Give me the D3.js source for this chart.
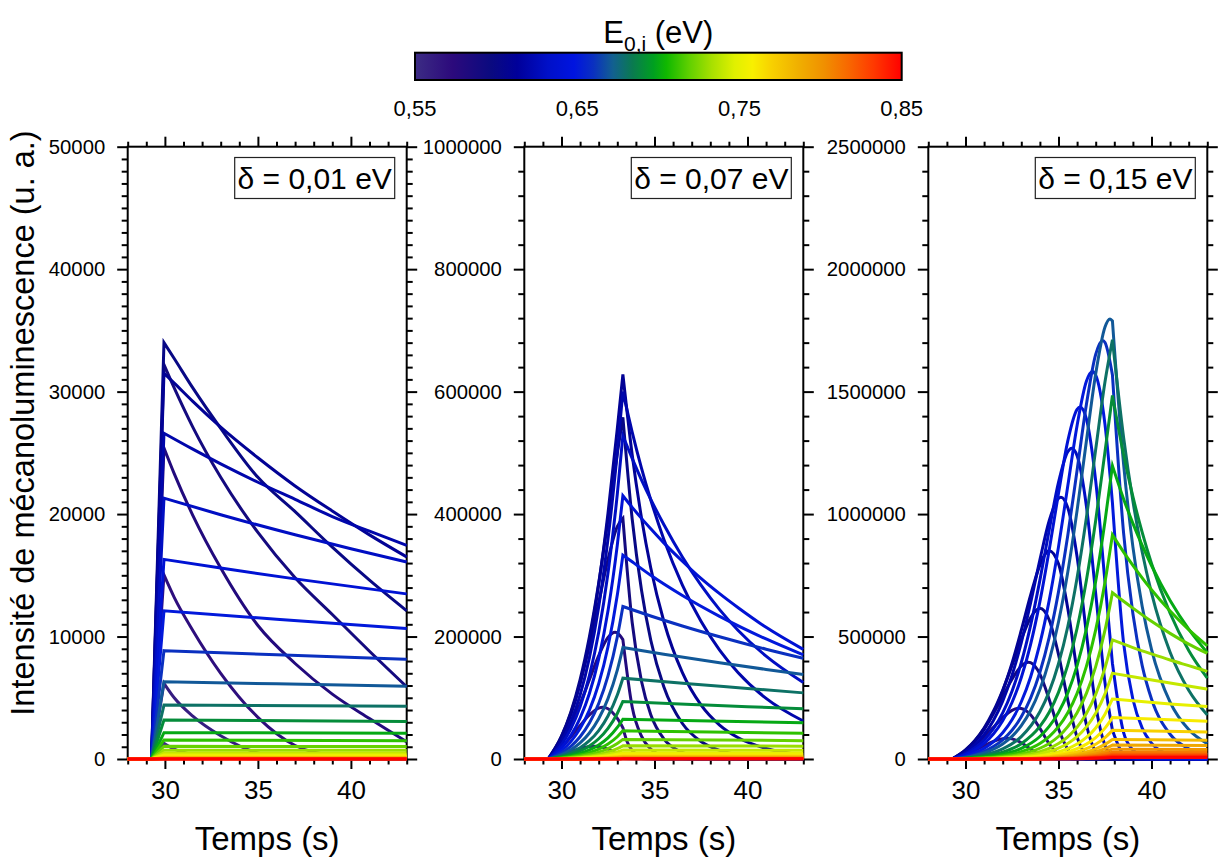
<!DOCTYPE html>
<html><head><meta charset="utf-8">
<script src="https://cdn.jsdelivr.net/npm/d3@7"></script>
<style>body{margin:0;background:#fff}svg{font-family:"Liberation Sans",Arial,sans-serif}</style>
</head><body><svg id="c" width="1219" height="859"></svg>
<script>
// ---------------- data ----------------
const E0 = [0.55,0.56,0.57,0.58,0.59,0.60,0.61,0.62,0.63,0.64,0.65,0.66,0.67,0.68,0.69,0.70,0.71,0.72,0.73,0.74,0.75,0.76,0.77,0.78,0.79,0.80,0.81,0.82,0.83,0.84,0.85];
const colorStops = [0.55,0.573,0.597,0.613,0.632,0.648,0.66,0.672,0.684,0.697,0.705,0.719,0.733,0.747,0.758,0.77,0.786,0.802,0.817,0.833,0.85];
const colorHex = ["#3c2c84","#2c0a7c","#0a0a80","#00009a","#0010c8","#0014e0","#0a30c0","#126090","#0a7a50","#00a020","#10b800","#60d000","#a8e000","#e0f000","#f8f000","#f8d000","#f0b000","#f09000","#f86800","#ff3800","#ff0000"];
const colorbarTicks = [0.55,0.65,0.75,0.85];
const colorbarLabels = ["0,55","0,65","0,75","0,85"];
const xMajorTicks = [30,35,40];
const timeDomain = [28,43];
const loadStart = 29.28;
const panelLabels = ["δ = 0,01 eV","δ = 0,07 eV","δ = 0,15 eV"];
const loadEnd = [29.95,33.3,37.9];
const yMax = [50000,1000000,2500000];
const yMajorStep = [10000,200000,500000];
const yMinorStep = [1000,40000,100000];
const valueUnit = [1,1000,1000];

// panel 1 (delta = 0.01 eV), values in counts; [time, intensity]
const curvesD001 = [
 [[29.95,1280],[30.5,800],[31.5,350],[33,100],[35,20],[37,0],[43,0]],
 [[29.95,6180],[30.5,5000],[31.5,3500],[33,1900],[35,500],[37,100],[39,20],[41,0],[43,0]],
 [[29.95,15030],[30.5,13200],[31.5,10500],[33,7000],[35,3400],[37,1100],[39,300],[41,80],[43,20]],
 [[29.95,25400],[30.5,23300],[31.5,19900],[33,15600],[35,10900],[37,7800],[39,5300],[41,3300],[43,1400]],
 [[29.95,32200],[30.5,30300],[31.5,27100],[33,23000],[35,18500],[37,14800],[39,11800],[41,8800],[43,5900]],
 [[29.95,34000],[30.5,32700],[31.5,30300],[33,27000],[35,23000],[37,20200],[39,17300],[41,14600],[43,12100]],
 [[29.95,31500],[30.5,30700],[31.5,29200],[33,27100],[35,24600],[37,22300],[39,20250],[41,18300],[43,16500]],
 [[29.95,26600],[31.5,25300],[33,24100],[35,22600],[37,21200],[39,19800],[41,18600],[43,17450]],
 [[29.95,21300],[33,19950],[37,18310],[40,17170],[43,16080]],
 [[29.95,16300],[33,15590],[37,14710],[43,13480]],
 [[29.95,12100],[36,11410],[43,10660]],
 [[29.95,8850],[36,8510],[43,8140]],
 [[29.95,6300],[36,6140],[43,5950]],
 [[29.95,4400],[43,4300]],
 [[29.95,3190],[43,3070]],
 [[29.95,2150],[43,2110]],
 [[29.95,1550],[43,1490]],
 [[29.95,1040],[43,1015]],
 [[29.95,715],[43,705]],
 [[29.95,487],[43,482]],
 [[29.95,331],[43,329]],
 [[29.95,225],[43,224]],
 [[29.95,153],[43,152]],
 [[29.95,104],[43,104]],
 [[29.95,71],[43,71]],
 [[29.95,48],[43,48]],
 [[29.95,33],[43,33]],
 [[29.95,22],[43,22]],
 [[29.95,15],[43,15]],
 [[29.95,10],[43,10]],
 [[29.95,7],[43,7]]
];

// panel 2 (delta = 0.07 eV), values in thousands
const curvesD007 = [
 [[30,1.38],[30.5,2.32],[31,2.95],[31.29,3.07],[31.5,3.01],[32,2.39],[32.5,1.38],[33,0.51],[33.3,0.21],[34,0],[43,0]],
 [[30,6.7],[30.5,12.13],[31,17.19],[31.5,20.45],[31.74,20.9],[32,20.34],[32.5,16.22],[33,9.6],[33.3,5.79],[33.8,2],[34.5,0.5],[35.5,0],[43,0]],
 [[30,18.85],[30.5,35.87],[31,54.6],[31.5,72],[32,83.2],[32.22,84.5],[32.5,82.1],[33,66.2],[33.3,51.1],[33.5,30.4],[33.8,13.9],[34.2,4.9],[34.8,1],[35.5,0],[43,0]],
 [[30,28.2],[30.5,55.8],[31,90.1],[31.5,129.4],[32,168.7],[32.5,198.6],[32.88,207],[33,206],[33.3,194.9],[33.8,85],[34.3,37.2],[34.85,15],[35.5,5.1],[36.5,1],[37.5,0],[43,0]],
 [[30,37],[30.5,74.8],[31,124],[31.5,185.1],[32,255.3],[32.5,325.8],[33,379.7],[33.3,393],[33.8,223],[34.3,127],[34.8,72.4],[35.5,33],[36.2,15],[37,6.1],[38,2],[39,0.6],[40,0],[43,0]],
 [[30,37.3],[30.5,76.4],[31,129.5],[31.5,199.4],[32,287.4],[32.5,390.8],[33,499.2],[33.3,558],[33.8,392],[34.3,276],[34.8,194],[35.5,118],[36.5,58],[37.5,28.6],[38.5,14],[39.5,6.9],[41,2.4],[43,0.6]],
 [[30,34.8],[30.5,71.8],[31,123.2],[31.5,192.9],[32,284.9],[32.5,401.4],[33,539.3],[33.3,628],[33.8,497],[34.3,394],[34.8,312],[35.5,225],[36.5,141],[37.5,88.3],[38.5,55.3],[39.5,34.6],[41,17.2],[43,6.8]],
 [[30,29.1],[30.5,60.4],[31,104.5],[31.5,165.5],[32,248.8],[32.5,359.5],[33,500.8],[33.3,600],[33.8,534],[34.3,475],[34.8,423],[35.5,359],[36.5,284],[37.5,225],[38.5,178],[39.5,141],[41,99],[43,62]],
 [[30,23.5],[30.5,49.1],[31,85.3],[31.5,136.2],[32,206.9],[32.5,303.7],[33,432.6],[33.3,528],[33.8,491],[34.3,456],[34.8,424],[35.5,383],[36.5,330],[37.5,284],[38.5,244],[39.5,210],[41,168],[43,125]],
 [[30,18.4],[30.5,38.3],[31,66.8],[31.5,107],[32,163.6],[32.5,242.1],[33,349.2],[33.3,430],[33.8,411],[34.3,393],[34.8,376],[35.5,353],[36.5,323],[37.5,295],[38.5,270],[39.5,247],[41,215],[43,179]],
 [[30,13.6],[30.5,28.4],[31,49.7],[31.5,79.9],[32,122.9],[32.5,183.4],[33,267.7],[33.3,333],[33.8,322],[34.8,300],[36.5,267],[38.5,233],[41,196],[43,170]],
 [[30,10],[30.5,20.8],[31,36.4],[31.5,58.7],[32,90.6],[32.5,135.7],[33,199.3],[33.3,249],[34.8,233.6],[36.5,217.3],[38.5,199.6],[41,179.3],[43,164.5]],
 [[30,7.1],[30.5,15],[31,26.3],[31.5,42.5],[32,65.7],[32.5,98.6],[33,145.3],[33.3,182],[35.5,171],[38.5,157.1],[41,146.3],[43,138]],
 [[30,5],[30.5,10.5],[31,18.5],[31.5,30],[32,46.5],[32.5,70.3],[33,104.5],[33.3,132],[37,122.3],[40,115.3],[43,108]],
 [[30,3.57],[30.5,7.51],[31,13.2],[31.5,21.3],[32,33.1],[32.5,50.1],[33,74.4],[33.3,94],[37,89.2],[40,85.4],[43,82]],
 [[30,2.47],[30.5,5.19],[31,9.11],[31.5,14.8],[32,22.9],[32.5,34.6],[33,51.5],[33.3,65],[38,62],[43,59]],
 [[30,1.75],[30.5,3.68],[31,6.45],[31.5,10.4],[32,16.2],[32.5,24.5],[33,36.4],[33.3,46],[38,44.2],[43,42]],
 [[30,1.22],[30.5,2.56],[31,4.49],[31.5,7.27],[32,11.3],[32.5,17],[33,25.3],[33.3,32],[43,30]],
 [[30,0.82],[30.5,1.72],[31,3.01],[31.5,4.88],[32,7.57],[32.5,11.4],[33,17],[33.3,21.5],[43,21]],
 [[30,0.55],[31,2.05],[32,5.14],[32.5,7.77],[33,11.6],[33.3,14.6],[43,14.4]],
 [[31,1.4],[32,3.52],[32.5,5.33],[33,7.92],[33.3,10],[43,9.9]],
 [[31,0.95],[32,2.4],[32.5,3.6],[33,5.4],[33.3,6.8],[43,6.7]],
 [[31,0.64],[32,1.62],[32.5,2.45],[33,3.64],[33.3,4.6],[43,4.55]],
 [[31,0.43],[32,1.09],[32.5,1.65],[33,2.45],[33.3,3.1],[43,3.07]],
 [[32,0.74],[33,1.66],[33.3,2.1],[43,2.08]],
 [[32,0.51],[33,1.15],[33.3,1.45],[43,1.44]],
 [[32,0.35],[33,0.79],[33.3,1.0],[43,1.0]],
 [[33,0.54],[33.3,0.68],[43,0.68]],
 [[33,0.36],[33.3,0.46],[43,0.46]],
 [[33,0.25],[33.3,0.31],[43,0.31]],
 [[33,0.17],[33.3,0.21],[43,0.21]]
];

// panel 3 (delta = 0.15 eV), values in thousands
const curvesD015 = [
 [[30,1.38],[30.5,2.32],[31,2.95],[31.29,3.07],[31.5,3.01],[32,2.39],[32.5,1.38],[33,0.51],[33.5,0.06],[34,0],[43,0]],
 [[30,6.7],[30.5,12.13],[31,17.19],[31.5,20.45],[31.74,20.9],[32,20.34],[32.5,16.22],[33,9.6],[33.5,3.75],[34,0.81],[34.5,0.08],[35,0],[43,0]],
 [[30,18.85],[30.5,35.87],[31,54.6],[31.5,72],[32,83.2],[32.22,84.5],[32.5,82.1],[33,66.2],[33.5,40.3],[34,16.5],[34.5,3.85],[35,0.4],[35.5,0],[43,0]],
 [[30,28.2],[30.5,55.8],[31,90.1],[31.5,129.4],[32,168.7],[32.5,198.6],[32.88,207],[33,206],[33.5,180.6],[34,124.9],[34.5,62],[35,19.1],[35.5,2.96],[36,0.17],[36.5,0],[43,0]],
 [[30,37],[30.5,74.8],[31,124],[31.5,185.1],[32,255.3],[32.5,325.8],[33,379.7],[33.38,395],[33.5,393.3],[34,346.5],[34.5,243.1],[35,123.3],[35.5,39.3],[36,6.4],[36.5,0.4],[37,0],[43,0]],
 [[30,36.5],[30.5,74.7],[31,126.6],[31.5,194.9],[32,280.9],[32.5,382],[33,488],[33.5,576.9],[34,615],[34.5,567.6],[35,427.4],[35.5,240.6],[36,89.1],[36.5,18.1],[37,1.6],[37.5,0],[43,0]],
 [[30,33.9],[30.5,70],[31,120.1],[31.5,188],[32,277.7],[32.5,391.2],[33,525.6],[33.5,668.5],[34,791.9],[34.5,850.7],[35,796.7],[35.5,614.1],[36,358.2],[36.5,139.9],[37,30.7],[37.5,2.9],[37.9,0],[43,0]],
 [[30,27.6],[30.5,57.4],[31,99.2],[31.5,157.2],[32,236.3],[32.5,341.4],[33,475.6],[33.5,637.1],[34,813.1],[34.5,972.8],[35,1064.1],[35.13,1069],[35.5,1025.7],[36,825.3],[36.5,512.7],[37,219.5],[37.5,55],[37.9,10.6],[38.5,0.7],[39,0],[43,0]],
 [[30,21.4],[30.5,44.7],[31,77.7],[31.5,124],[32,188.4],[32.5,276.6],[33,394],[33.5,545.6],[34,730.3],[34.5,935.4],[35,1129.3],[35.5,1254.4],[35.71,1269],[36,1238.2],[36.5,1032.5],[37,675.2],[37.5,311.4],[37.9,117.8],[38.5,19.6],[39,4.4],[39.5,1],[40,0],[43,0]],
 [[30,17.5],[30.5,36.5],[31,63.6],[31.5,101.9],[32,155.8],[32.5,230.6],[33,332.6],[33.5,468.3],[34,642.6],[34.5,853.4],[35,1084.9],[35.5,1298.6],[36,1427.5],[36.16,1437],[36.5,1389],[37,1135.8],[37.5,722.2],[37.9,390.1],[38.5,107.4],[39,36.7],[39.5,12.5],[40,4.3],[41,0.5],[42,0],[43,0]],
 [[30,11.9],[30.5,24.8],[31,43.4],[31.5,69.8],[32,107.3],[32.5,160.2],[33,233.8],[33.5,335],[34,471],[34.5,647.6],[35,866.1],[35.5,1115.3],[36,1361.9],[36.5,1542.1],[36.82,1582],[37,1567.4],[37.5,1365.1],[37.9,1045.7],[38.5,473],[39,244],[39.5,126],[40,65],[41,17.3],[42,4.6],[43,1.2]],
 [[30,8.6],[30.5,18],[31,31.4],[31.5,50.7],[32,78.2],[32.5,117.2],[33,172.1],[33.5,248.8],[34,354.4],[34.5,496.6],[35,682.4],[35.5,913.5],[36,1179.6],[36.5,1447.2],[37,1652.4],[37.37,1709],[37.5,1700.8],[37.9,1568.2],[38.5,922],[39,593],[39.5,381],[40,245],[41,101],[42,41.8],[43,17.2]],
 [[30,6.7],[30.5,14.1],[31,24.7],[31.5,39.9],[32,61.6],[32.5,92.5],[33,136.3],[33.5,198],[34,283.8],[34.5,401.5],[35,559.4],[35.5,763.9],[36,1015.1],[36.5,1298.1],[37,1572.7],[37.5,1763.8],[37.77,1797],[37.9,1788.4],[38.5,1204],[39,866],[39.5,623],[40,448],[41,232],[42,120],[43,62.3]],
 [[30,4.5],[31,16.5],[32,41.2],[33,91.6],[34,193],[34.5,275],[35,389],[35.5,541],[36,740],[36.5,985],[37,1264],[37.5,1540],[37.9,1712],[38.5,1313],[39,1053],[39.5,845],[40,678],[41,436],[42,281],[43,180]],
 [[30,3],[31,11.2],[32,28.1],[33,62.7],[34,133],[34.5,191],[35,272],[35.5,384],[36,534],[36.5,730],[37,974],[37.5,1255],[37.9,1484],[38.5,1242],[39,1071],[39.5,925],[40,798],[41,595],[42,443],[43,330]],
 [[30,2.1],[31,7.7],[32,19.3],[33,43.2],[34,91.9],[34.5,133],[35,190],[35.5,270],[36,381],[36.5,531],[37,726],[37.5,971],[37.9,1197],[38.5,1062],[39,962],[39.5,872],[40,790],[41,647],[42,530],[43,434]],
 [[30,1.4],[31,5.3],[32,13.2],[33,29.7],[34,63.4],[34.5,91.8],[35,132],[35.5,189],[36,268],[36.5,378],[37,527],[37.5,722],[37.9,915],[38.5,845],[39,791],[40,691],[41,604],[42,528],[43,462]],
 [[30,1],[31,3.6],[32,9.1],[33,20.5],[34,43.9],[34.5,63.7],[35,91.9],[35.5,132],[36,189],[36.5,268],[37,377],[37.5,526],[37.9,679],[38.5,644],[39,616],[40,562],[41,513],[42,469],[43,431]],
 [[30,0.67],[31,2.5],[32,6.2],[33,14],[34,30],[34.5,43.6],[35,63],[35.5,90.7],[36,130],[36.5,186],[37,264],[37.5,372],[37.9,486],[39,455],[40,429],[41,404],[42,381],[43,358]],
 [[30,0.47],[31,1.7],[32,4.3],[33,9.7],[34,20.9],[34.5,30.4],[35,44],[35.5,63.5],[36,91.3],[36.5,131],[37,187],[37.5,266],[37.9,350],[39,336],[41,310],[43,285]],
 [[30,0.31],[31,1.13],[32,2.85],[33,6.4],[34,13.8],[34.5,20],[35,29.1],[35.5,42.1],[36,60.9],[36.5,87.9],[37,126.7],[37.5,182.8],[37.9,245],[39,238],[41,225],[43,214]],
 [[30,0.21],[31,0.78],[32,1.96],[33,4.4],[34,9.5],[34.5,13.8],[35,20.1],[35.5,29],[36,42],[36.5,60.6],[37,87.4],[37.5,126],[37.9,169],[40,163],[43,154]],
 [[30,0.15],[31,0.54],[32,1.36],[33,3.06],[34,6.58],[34.5,9.57],[35,13.9],[35.5,20.1],[36,29.1],[36.5,42],[37,60.5],[37.5,87.3],[37.9,117],[40,114],[43,110]],
 [[31,0.37],[32,0.93],[33,2.09],[34,4.5],[34.5,6.55],[35,9.5],[35.5,13.7],[36,19.9],[36.5,28.7],[37,41.4],[37.5,59.7],[37.9,80],[40,78.7],[43,76.8]],
 [[31,0.26],[32,0.66],[33,1.49],[34,3.2],[34.5,4.66],[35,6.77],[35.5,9.79],[36,14.2],[36.5,20.4],[37,29.5],[37.5,42.5],[37.9,57],[43,55.5]],
 [[32,0.46],[33,1.04],[34,2.25],[34.5,3.27],[35,4.75],[35.5,6.87],[36,9.94],[36.5,14.3],[37,20.7],[37.5,29.8],[37.9,40],[43,39.3]],
 [[33,0.73],[34,1.57],[35,3.32],[36,6.96],[36.5,10],[37,14.5],[37.5,20.9],[37.9,28],[43,27.7]],
 [[33,0.5],[34,1.07],[35,2.26],[36,4.72],[36.5,6.81],[37,9.83],[37.5,14.2],[37.9,19],[43,18.9]],
 [[33,0.34],[34,0.73],[35,1.54],[36,3.23],[36.5,4.66],[37,6.72],[37.5,9.7],[37.9,13],[43,12.9]],
 [[33,0.24],[34,0.51],[35,1.07],[36,2.24],[36.5,3.23],[37,4.66],[37.5,6.71],[37.9,9],[43,9]],
 [[33,0.16],[34,0.34],[35,0.71],[36,1.49],[36.5,2.15],[37,3.1],[37.5,4.48],[37.9,6],[43,6]]
];
const panelCurves = [curvesD001, curvesD007, curvesD015];

// ---------------- layout ----------------
const svg = d3.select("#c");
const FONT = '"Liberation Sans", Arial, sans-serif';
const panelLeft = [127.7, 524.3, 928.3];
const panelW = 279, plotTop = 146.7, plotBottom = 759;
const color = d3.scaleLinear().domain(colorStops).range(colorHex).interpolate(d3.interpolateRgb);

// colour bar
const cb = {x0:415, x1:901.7, y:52.7, h:27.3};
const defs = svg.append("defs");
const grad = defs.append("linearGradient").attr("id","cbg").attr("x1","0%").attr("x2","100%");
colorStops.forEach((s,i)=>grad.append("stop").attr("offset",((s-0.55)/0.3*100)+"%").attr("stop-color",colorHex[i]));
const cbScale = d3.scaleLinear().domain([0.55,0.85]).range([cb.x0,cb.x1]);
svg.append("rect").attr("x",cb.x0).attr("y",cb.y).attr("width",cb.x1-cb.x0).attr("height",cb.h)
  .attr("fill","url(#cbg)").attr("stroke","#000").attr("stroke-width",2);
svg.append("g").selectAll("text").data(colorbarTicks).join("text")
  .attr("x",d=>cbScale(d)).attr("y",116).attr("text-anchor","middle")
  .attr("font-size",22).attr("font-family",FONT).text((d,i)=>colorbarLabels[i]);
const cbt = svg.append("text").attr("x",(cb.x0+cb.x1)/2).attr("y",43).attr("text-anchor","middle")
  .attr("font-size",31).attr("font-family",FONT);
cbt.append("tspan").text("E");
cbt.append("tspan").attr("font-size",21).attr("dy",8).text("0,i");
cbt.append("tspan").attr("dy",-8).text(" (eV)");

// y title
svg.append("text").attr("transform","translate(34,423) rotate(-90)").attr("text-anchor","middle")
  .attr("font-size",32.5).attr("font-family",FONT).text("Intensité de mécanoluminescence (u. a.)");

function buildPath(pts, line, tEnd){
  const iS = pts.findIndex(p=>p[0]>=loadStart-1e-9);
  let iE = 0; pts.forEach((p,i)=>{ if(p[0]<=tEnd+1e-9) iE=i; });
  const pieces = [pts.slice(0,iS+1), pts.slice(iS,iE+1), pts.slice(iE)].filter(p=>p.length>1);
  let d = line(pieces[0]);
  for(let k=1;k<pieces.length;k++) d += line(pieces[k]).replace(/^M[^CLZ]*/,'');
  return d;
}

panelCurves.forEach((curves,pi)=>{
  const L = panelLeft[pi], R = L+panelW;
  const x = d3.scaleLinear().domain(timeDomain).range([L,R]);
  const y = d3.scaleLinear().domain([0,yMax[pi]]).range([plotBottom,plotTop]);
  const g = svg.append("g");
  const majorY = d3.range(0, yMax[pi]+1, yMajorStep[pi]);
  const minorY = d3.range(0, yMax[pi]+1, yMinorStep[pi]).filter(v=>v%yMajorStep[pi]!==0);
  const minorX = d3.range(28, 43.001, 1).filter(v=>v%5!==0);
  const styleAxis = sel=>{ sel.select(".domain").remove(); sel.selectAll("line").attr("stroke","#000").attr("stroke-width",2); };
  const mk = (axisFn, scale, vals, size, labels, tx, ty, fs, pad)=>{
    const a = axisFn(scale).tickValues(vals).tickSizeInner(size).tickSizeOuter(0).tickPadding(pad||3);
    a.tickFormat(labels ? d3.format("d") : ()=>"");
    const s = g.append("g").attr("transform",`translate(${tx},${ty})`).call(a);
    styleAxis(s);
    s.selectAll("text").attr("font-size",fs||20).attr("font-family",FONT).attr("fill","#000");
    return s;
  };
  mk(d3.axisBottom, x, xMajorTicks, 10, true, 0, plotBottom, 26, 12);
  mk(d3.axisBottom, x, minorX, 5.5, false, 0, plotBottom);
  mk(d3.axisTop, x, xMajorTicks, 10, false, 0, plotTop);
  mk(d3.axisTop, x, minorX, 5, false, 0, plotTop);
  mk(d3.axisLeft, y, majorY, 10.5, true, L, 0, 20.3, 12);
  mk(d3.axisLeft, y, minorY, 6, false, L, 0);
  mk(d3.axisRight, y, majorY, 10.5, false, R, 0);
  mk(d3.axisRight, y, minorY, 6, false, R, 0);
  g.append("rect").attr("x",L).attr("y",plotTop).attr("width",panelW).attr("height",plotBottom-plotTop)
    .attr("fill","none").attr("stroke","#000").attr("stroke-width",2);
  const line = d3.line().x(d=>x(d[0])).y(d=>y(d[1]*valueUnit[pi])).curve(d3.curveMonotoneX);
  g.append("g").selectAll("path").data(curves).join("path")
    .attr("d",c=>buildPath([[timeDomain[0],0],[loadStart,0]].concat(c), line, loadEnd[pi]))
    .attr("fill","none").attr("stroke",(c,i)=>color(E0[i])).attr("stroke-width",3)
    .attr("stroke-linejoin","miter").attr("stroke-miterlimit",6);
  const bw = 160, bh = 41, bx = R-12-bw, by = 157.5;
  g.append("rect").attr("x",bx).attr("y",by).attr("width",bw).attr("height",bh)
    .attr("fill","#fff").attr("stroke","#222").attr("stroke-width",1.2);
  g.append("text").attr("x",bx+bw/2).attr("y",by+31).attr("text-anchor","middle")
    .attr("font-size",30).attr("font-family",FONT).text(panelLabels[pi]);
  g.append("text").attr("x",(L+R)/2).attr("y",850).attr("text-anchor","middle")
    .attr("font-size",33).attr("font-family",FONT).text("Temps (s)");
});
</script></body></html>
